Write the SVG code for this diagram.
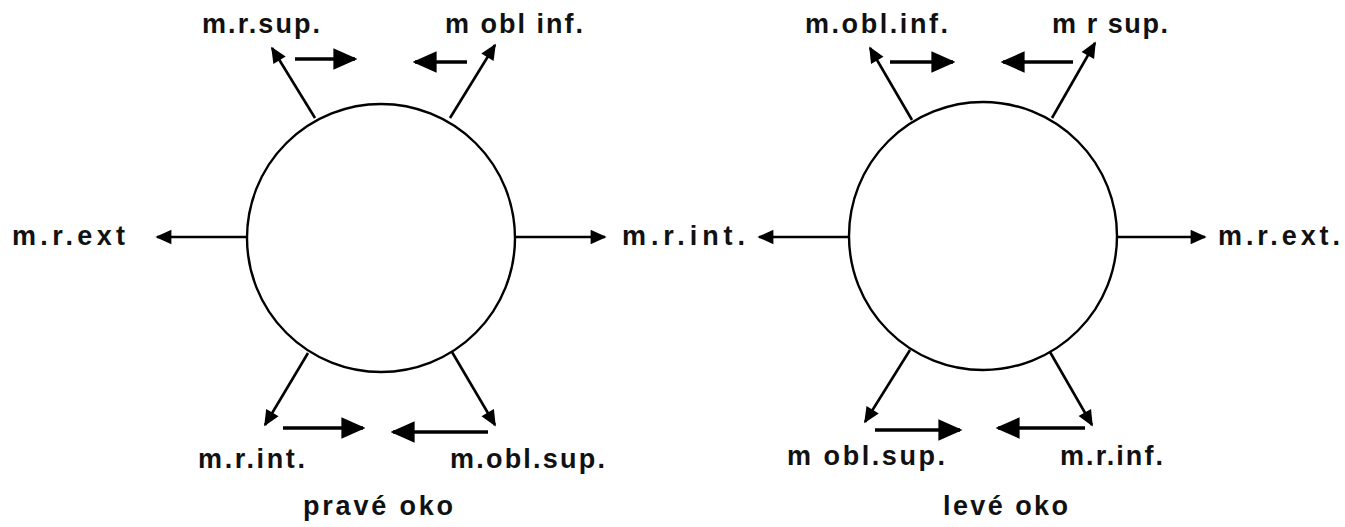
<svg xmlns="http://www.w3.org/2000/svg" width="1345" height="527" viewBox="0 0 1345 527">
<defs>
<style>
.eye{fill:none;stroke:#000;stroke-width:2.4}
.c line{stroke:#000;stroke-width:2.6;fill:none}
.c .pull{stroke-width:3.4;marker-end:url(#big)}
.c .dir{marker-end:url(#head)}
text{font-family:"Liberation Sans",Arial,sans-serif;font-weight:bold;font-size:27px;fill:#111}
</style>
<marker id="head" viewBox="0 0 10 10" refX="9" refY="5" markerWidth="18" markerHeight="16" markerUnits="userSpaceOnUse" orient="auto">
<path d="M0,0.5 L10,5 L0,9.5 Z" fill="#000"/>
</marker>
<marker id="big" viewBox="0 0 10 10" refX="9" refY="5" markerWidth="24" markerHeight="24" markerUnits="userSpaceOnUse" orient="auto">
<path d="M0,0.5 L10,5 L0,9.5 Z" fill="#000"/>
</marker>
</defs>
<rect width="1345" height="527" fill="#fff"/>
<g id="eye-right">
<circle class="eye" cx="381" cy="238" r="134"/>
<text x="303" y="515" textLength="150" lengthAdjust="spacing">pravé oko</text>
</g>
<g id="eye-left">
<circle class="eye" cx="983" cy="236" r="134"/>
<text x="943" y="515" textLength="125" lengthAdjust="spacing">levé oko</text>
</g>
<g id="labels-right">
<text id="r-mrsup" x="202" y="33" textLength="118" lengthAdjust="spacing">m.r.sup.</text>
<text id="r-moblinf" x="445" y="33" textLength="138" lengthAdjust="spacing">m obl inf.</text>
<text id="r-mrext" x="12" y="245" textLength="113" lengthAdjust="spacing">m.r.ext</text>
<text id="r-mrint" x="622" y="245" textLength="123" lengthAdjust="spacing">m.r.int.</text>
<text id="r-mrint2" x="198" y="468" textLength="107" lengthAdjust="spacing">m.r.int.</text>
<text id="r-moblsup" x="450" y="468" textLength="155" lengthAdjust="spacing">m.obl.sup.</text>
</g>
<g id="labels-left">
<text id="l-moblinf" x="805" y="33" textLength="143" lengthAdjust="spacing">m.obl.inf.</text>
<text id="l-mrsup" x="1052" y="33" textLength="116" lengthAdjust="spacing">m r sup.</text>
<text id="l-mrext" x="1218" y="245" textLength="122" lengthAdjust="spacing">m.r.ext.</text>
<text id="l-moblsup" x="787" y="465" textLength="158" lengthAdjust="spacing">m obl.sup.</text>
<text id="l-mrinf" x="1060" y="465" textLength="103" lengthAdjust="spacing">m.r.inf.</text>
</g>
<g id="connectors" class="c">
<line class="dir" x1="315" y1="118" x2="272" y2="48"/>
<line class="dir" x1="450" y1="118" x2="495" y2="45"/>
<line class="dir" x1="247" y1="237" x2="157" y2="237"/>
<line class="dir" x1="515" y1="237" x2="605" y2="237"/>
<line class="dir" x1="308" y1="353" x2="265" y2="425"/>
<line class="dir" x1="452" y1="352" x2="495" y2="425"/>
<line class="pull" x1="295" y1="59" x2="355" y2="59"/>
<line class="pull" x1="467" y1="62" x2="415" y2="62"/>
<line class="pull" x1="283" y1="428" x2="363" y2="428"/>
<line class="pull" x1="488" y1="432" x2="393" y2="432"/>
<line class="dir" x1="912" y1="120" x2="870" y2="48"/>
<line class="dir" x1="1052" y1="118" x2="1095" y2="43"/>
<line class="dir" x1="849" y1="237" x2="759" y2="237"/>
<line class="dir" x1="1117" y1="237" x2="1205" y2="237"/>
<line class="dir" x1="910" y1="350" x2="865" y2="422"/>
<line class="dir" x1="1050" y1="352" x2="1092" y2="425"/>
<line class="pull" x1="890" y1="62" x2="953" y2="62"/>
<line class="pull" x1="1073" y1="62" x2="1003" y2="62"/>
<line class="pull" x1="875" y1="430" x2="960" y2="430"/>
<line class="pull" x1="1085" y1="428" x2="998" y2="428"/>
</g>
</svg>
